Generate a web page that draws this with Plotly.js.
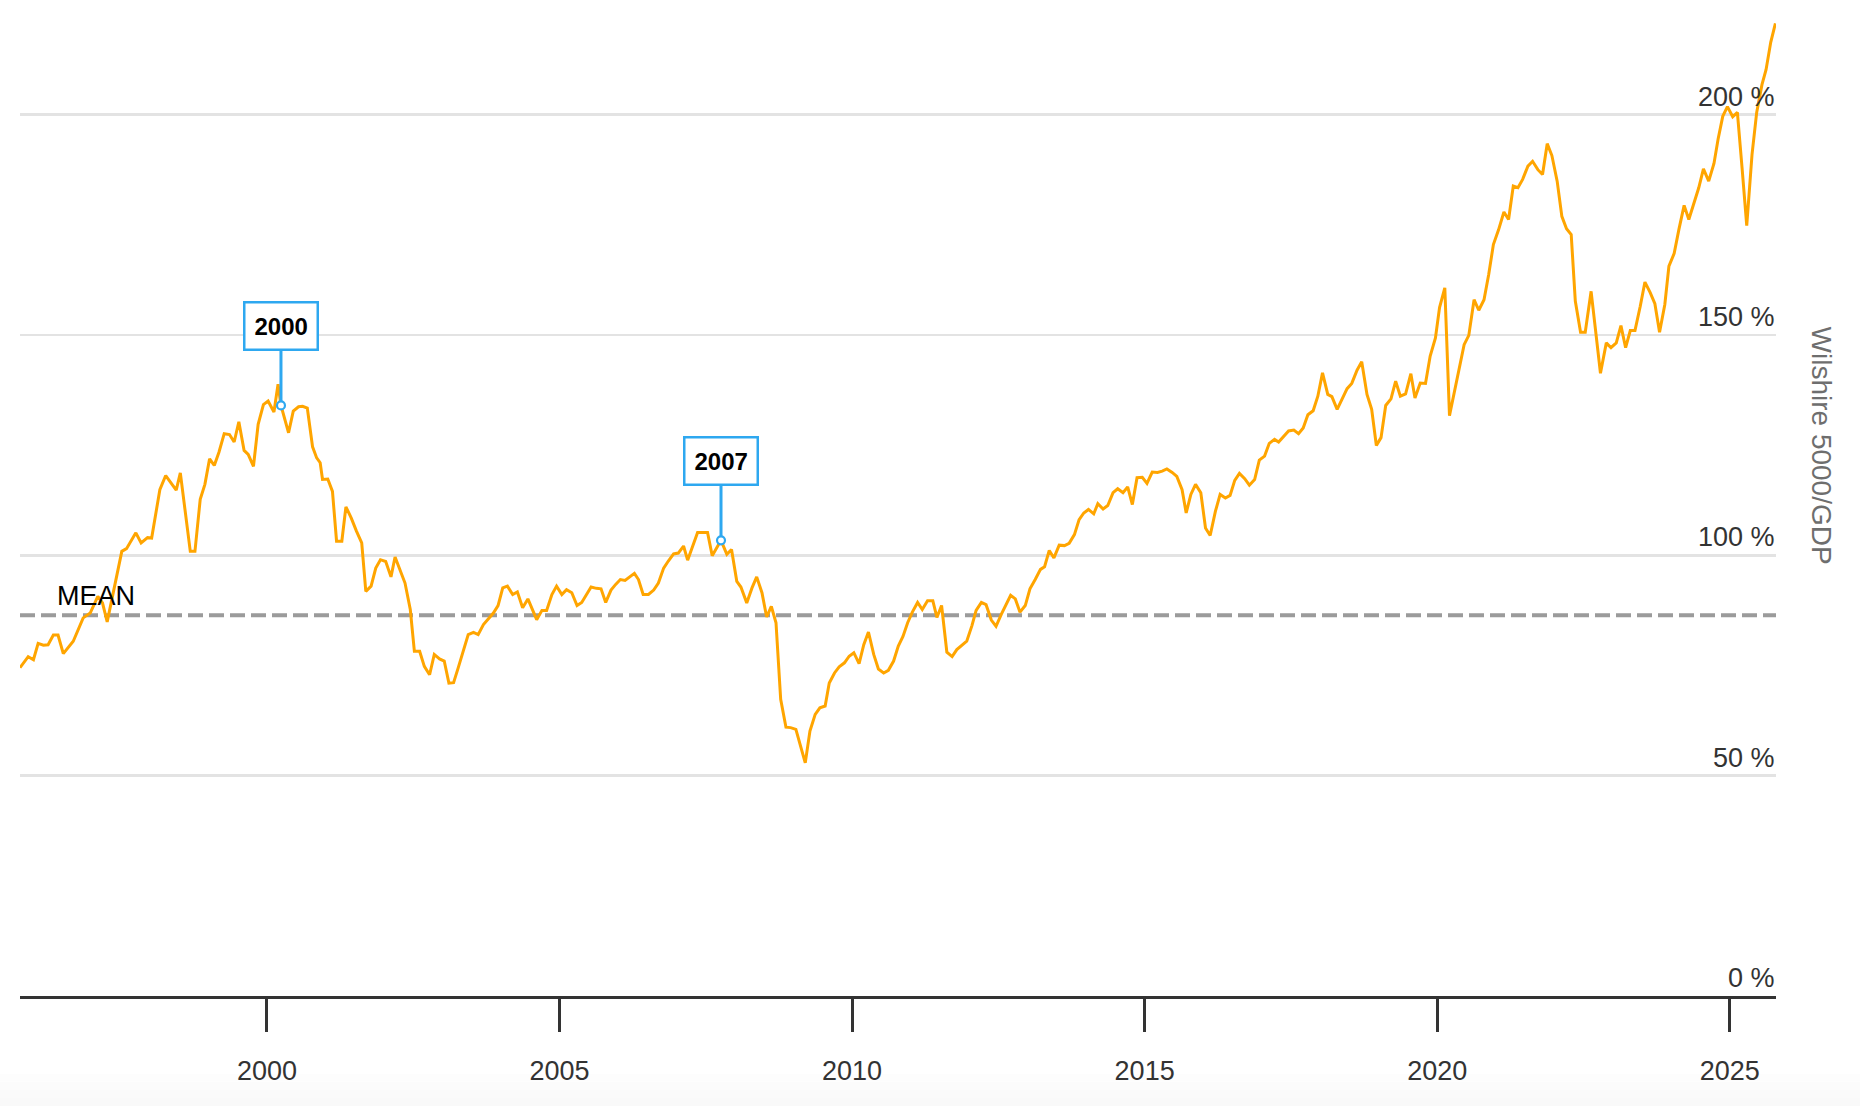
<!DOCTYPE html>
<html>
<head>
<meta charset="utf-8">
<script src="https://cdn.plot.ly/plotly-3.0.1.min.js"></script>
<style>
html,body{margin:0;padding:0;background:#fff;}
#chart{width:1860px;height:1106px;}
</style>
</head>
<body>
<div id="chart"></div>
<script>
// ---- data ----
const years = [
1995.78,1995.92,1996.01,1996.09,1996.18,1996.26,1996.35,1996.43,1996.52,1996.69,1996.86,1996.98,
1997.11,1997.19,1997.27,1997.40,1997.52,1997.60,1997.76,1997.85,1997.96,
1998.03,1998.17,1998.27,1998.45,1998.52,1998.69,1998.77,1998.86,1998.94,
1999.02,1999.10,1999.18,1999.27,1999.36,1999.44,1999.52,1999.61,1999.68,1999.77,1999.85,1999.94,
2000.02,2000.12,2000.19,2000.24,2000.37,2000.45,2000.54,2000.61,2000.69,2000.78,2000.85,2000.91,2000.95,
2001.04,2001.12,2001.19,2001.28,2001.35,2001.44,2001.53,2001.62,2001.69,2001.78,2001.86,2001.94,
2002.03,2002.12,2002.19,2002.28,2002.36,2002.45,2002.52,2002.61,2002.69,2002.78,2002.86,2002.95,
2003.03,2003.11,2003.19,2003.27,2003.36,2003.44,2003.53,2003.61,2003.70,2003.79,2003.87,2003.95,
2004.03,2004.11,2004.20,2004.28,2004.37,2004.46,2004.54,2004.61,2004.70,2004.78,2004.87,2004.95,
2005.04,2005.12,2005.21,2005.30,2005.38,2005.47,2005.54,2005.63,2005.71,2005.79,2005.88,2005.96,
2006.04,2006.12,2006.21,2006.28,2006.35,2006.43,2006.52,2006.61,2006.69,2006.78,2006.86,2006.95,
2007.03,2007.12,2007.19,2007.28,2007.36,2007.44,2007.53,2007.61,2007.70,2007.76,2007.86,2007.94,
2008.03,2008.10,2008.20,2008.29,2008.37,2008.46,2008.54,2008.62,2008.70,2008.78,2008.87,2008.95,
2009.04,2009.12,2009.20,2009.28,2009.37,2009.45,2009.54,2009.61,2009.70,2009.78,2009.87,2009.95,
2010.03,2010.12,2010.20,2010.28,2010.37,2010.45,2010.54,2010.62,2010.71,2010.79,2010.87,2010.95,
2011.03,2011.12,2011.20,2011.29,2011.38,2011.45,2011.53,2011.62,2011.71,2011.79,2011.88,2011.96,
2012.05,2012.12,2012.21,2012.29,2012.38,2012.46,2012.55,2012.63,2012.71,2012.79,2012.87,2012.96,
2013.04,2013.13,2013.22,2013.29,2013.37,2013.45,2013.54,2013.63,2013.71,2013.80,2013.88,2013.96,
2014.04,2014.13,2014.20,2014.29,2014.37,2014.46,2014.54,2014.63,2014.71,2014.79,2014.87,2014.96,
2015.04,2015.13,2015.22,2015.30,2015.38,2015.47,2015.55,2015.64,2015.71,2015.79,2015.87,2015.96,
2016.04,2016.12,2016.21,2016.29,2016.38,2016.46,2016.54,2016.62,2016.71,2016.79,2016.88,2016.96,
2017.05,2017.13,2017.22,2017.29,2017.38,2017.46,2017.55,2017.63,2017.71,2017.79,2017.88,2017.96,
2018.04,2018.13,2018.20,2018.29,2018.37,2018.46,2018.54,2018.63,2018.71,2018.80,2018.88,2018.96,
2019.04,2019.12,2019.21,2019.29,2019.37,2019.46,2019.55,2019.62,2019.71,2019.80,2019.88,2019.97,
2020.04,2020.13,2020.21,2020.30,2020.38,2020.46,2020.54,2020.63,2020.71,2020.80,2020.88,2020.96,
2021.05,2021.14,2021.22,2021.30,2021.38,2021.46,2021.55,2021.63,2021.72,2021.80,2021.88,2021.96,
2022.05,2022.13,2022.21,2022.29,2022.36,2022.45,2022.53,2022.63,2022.79,2022.89,2022.97,
2023.06,2023.14,2023.22,2023.30,2023.38,2023.47,2023.55,2023.64,2023.72,2023.80,2023.89,2023.96,
2024.05,2024.13,2024.22,2024.30,2024.38,2024.47,2024.55,2024.64,2024.73,2024.80,2024.88,2024.96,
2025.05,2025.13,2025.21,2025.29,2025.38,2025.46,2025.55,2025.62,2025.70,2025.78
];
const ratio = [
74.5,77.0,76.3,80.0,79.6,79.7,81.9,81.9,77.7,80.5,85.8,86.9,
90.7,89.2,84.9,93.0,100.9,101.5,105.1,102.8,104.0,
103.9,114.9,118.1,114.8,118.7,100.9,100.9,112.7,116.1,
121.9,120.4,123.4,127.6,127.4,125.7,130.3,123.8,122.9,120.2,129.7,134.2,
135.0,132.5,138.8,134.0,127.8,132.7,133.7,133.8,133.4,124.6,122.1,121.0,117.2,
117.3,114.5,103.2,103.2,111.0,108.5,105.5,102.8,91.8,93.0,97.1,99.0,
98.6,95.1,99.6,96.6,93.7,87.7,78.2,78.2,74.8,72.9,77.5,76.5,
76.0,71.0,71.1,74.5,78.2,82.0,82.5,82.0,84.3,85.8,86.9,88.6,
92.6,93.0,91.1,91.7,88.1,90.1,87.5,85.4,87.5,87.5,91.1,93.0,
91.1,92.2,91.5,88.6,89.3,91.1,92.8,92.5,92.4,89.3,92.1,93.4,
94.5,94.3,95.3,95.9,94.5,91.1,91.1,92.1,93.7,97.1,98.7,100.3,
100.5,102.1,98.9,102.4,105.2,105.2,105.2,99.9,102.1,103.4,100.2,101.3,
94.1,92.8,89.2,92.6,95.1,91.5,86.0,88.4,84.7,67.3,61.0,60.9,
60.5,56.7,52.9,60.1,63.9,65.4,65.8,71.0,73.3,74.7,75.6,77.1,
77.9,75.4,79.7,82.6,77.5,74.2,73.3,73.9,76.0,79.4,81.6,84.7,
87.1,89.3,87.7,89.7,89.7,85.9,88.6,78.0,77.0,78.6,79.5,80.5,
84.1,87.5,89.3,88.8,85.3,83.9,86.6,88.8,90.9,90.1,87.1,88.6,
92.4,94.5,96.8,97.4,101.1,99.4,102.3,102.2,102.7,104.7,108.1,109.6,
110.4,109.4,111.7,110.5,111.3,114.2,115.1,114.2,115.5,111.5,117.6,117.7,
116.3,118.9,118.8,119.1,119.6,118.8,117.9,114.9,109.6,113.8,116.1,114.2,
106.2,104.5,110.0,113.8,113.0,113.6,117.0,118.6,117.4,115.9,117.2,121.6,
122.5,125.4,126.3,125.7,126.9,128.2,128.4,127.6,128.9,131.9,132.8,136.1,
141.4,136.5,136.0,133.1,135.3,137.8,139.0,142.0,143.9,136.5,133.1,124.9,
126.7,134.0,135.5,139.5,136.1,136.6,141.2,135.7,139.1,139.0,145.2,149.3,
156.2,160.7,131.7,137.6,142.9,147.8,149.9,158.0,155.6,158.0,163.7,170.5,
173.9,177.9,176.2,183.8,183.4,185.3,188.3,189.4,187.5,186.4,193.4,190.7,
184.9,176.9,174.1,172.8,157.7,150.6,150.6,159.9,141.3,148.2,147.1,
148.2,152.1,147.1,151.0,151.0,156.5,162.0,159.6,157.1,150.6,156.9,165.6,
168.5,173.9,179.4,176.2,179.8,183.4,187.7,184.9,188.9,194.4,199.6,201.8,
199.5,200.5,187.9,174.8,190.9,200.5,206.8,210.2,216.4,220.7
];
const meanValue = 86.4;
const peakYears = [2000.24, 2007.76];
const peakValues = [134.0, 103.4];
const peakLabels = ['2000', '2007'];
const xTickVals = [2000, 2005, 2010, 2015, 2020, 2025];
const xTickText = ['2000', '2005', '2010', '2015', '2020', '2025'];
const yTickVals = [0, 50, 100, 150, 200];
const yTickText = ['0 %', '50 %', '100 %', '150 %', '200 %'];
const yTitle = 'Wilshire 5000/GDP';
const meanLabel = 'MEAN';
const xRange = [1995.78, 2025.79];
const yRange = [0, 226];

// ---- styles ----
const FONT = 'Helvetica Neue, Helvetica, Arial, Liberation Sans, sans-serif';
const ORANGE = '#ffa500';
const BLUE = '#2ea8f0';
const DARK = '#333333';

const traces = [
  {
    type: 'scatter', mode: 'lines', x: years, y: ratio,
    line: {color: ORANGE, width: 3}, hoverinfo: 'skip'
  },
  {
    type: 'scatter', mode: 'markers', x: peakYears, y: peakValues,
    marker: {symbol: 'circle', size: 8, color: '#ffffff', line: {color: BLUE, width: 2.2}},
    hoverinfo: 'skip'
  }
];

const annotations = peakLabels.map((t, i) => ({
  x: peakYears[i], y: peakValues[i], xref: 'x', yref: 'y',
  text: '<b>' + t + '</b>',
  showarrow: true, arrowhead: 0, arrowwidth: 3, arrowcolor: BLUE,
  ax: 0, ay: -79, standoff: 4,
  bgcolor: '#ffffff', bordercolor: BLUE, borderwidth: 2.5, borderpad: 9,
  font: {family: FONT, size: 24, color: '#000000'}
}));
// y tick labels: right-aligned, sitting just above each gridline
yTickVals.forEach((v, i) => {
  annotations.push({
    x: 1, y: v, xref: 'paper', yref: 'y',
    xanchor: 'right', yanchor: 'middle', yshift: 18,
    text: yTickText[i], showarrow: false, borderpad: 0,
    font: {family: FONT, size: 27, color: DARK}
  });
});
annotations.push({
  x: 1996.37, y: meanValue, xref: 'x', yref: 'y',
  xanchor: 'left', yanchor: 'bottom', yshift: 2,
  text: meanLabel, showarrow: false,
  font: {family: FONT, size: 27, color: '#000000'}
});
annotations.push({
  x: 1.026, y: 0.553, xref: 'paper', yref: 'paper',
  xanchor: 'center', yanchor: 'middle',
  text: yTitle, textangle: 90, showarrow: false,
  font: {family: FONT, size: 28, color: '#6e6e6e'}
});

// soft grey band at the bottom of the page
const bandShapes = [];
const bandSteps = [[-0.078, -0.086, 0.006], [-0.086, -0.094, 0.012], [-0.094, -0.102, 0.018], [-0.102, -0.13, 0.025]];
bandSteps.forEach(s => bandShapes.push({
  type: 'rect', xref: 'paper', yref: 'paper', x0: -0.02, x1: 1.06, y0: s[1], y1: s[0],
  fillcolor: 'rgba(0,0,0,' + s[2] + ')', line: {width: 0}, layer: 'below'
}));

const layout = {
  width: 1860, height: 1106,
  margin: {l: 20, r: 84, t: 0, b: 110},
  paper_bgcolor: '#ffffff', plot_bgcolor: '#ffffff',
  showlegend: false,
  font: {family: FONT, size: 27, color: DARK},
  xaxis: {
    range: xRange, tickmode: 'array', tickvals: xTickVals, ticktext: xTickText,
    showgrid: false, zeroline: false,
    showline: true, linecolor: DARK, linewidth: 3.3,
    ticks: 'outside', ticklen: 33, tickwidth: 3, tickcolor: DARK,
    tickfont: {family: FONT, size: 27, color: DARK},
    ticklabelstandoff: 15
  },
  yaxis: {
    range: yRange, tickmode: 'array', tickvals: yTickVals,
    showticklabels: false, ticks: '',
    showgrid: true, gridcolor: '#e3e3e3', gridwidth: 2.5,
    zeroline: false, showline: false
  },
  shapes: bandShapes.concat([
    {type: 'line', xref: 'x', yref: 'y', layer: 'below',
     x0: xRange[0], x1: xRange[1], y0: meanValue, y1: meanValue,
     line: {color: '#9b9b9b', width: 4, dash: '15px,6px'}}
  ]),
  annotations: annotations
};

Plotly.newPlot('chart', traces, layout, {staticPlot: true, displayModeBar: false});
</script>
</body>
</html>
